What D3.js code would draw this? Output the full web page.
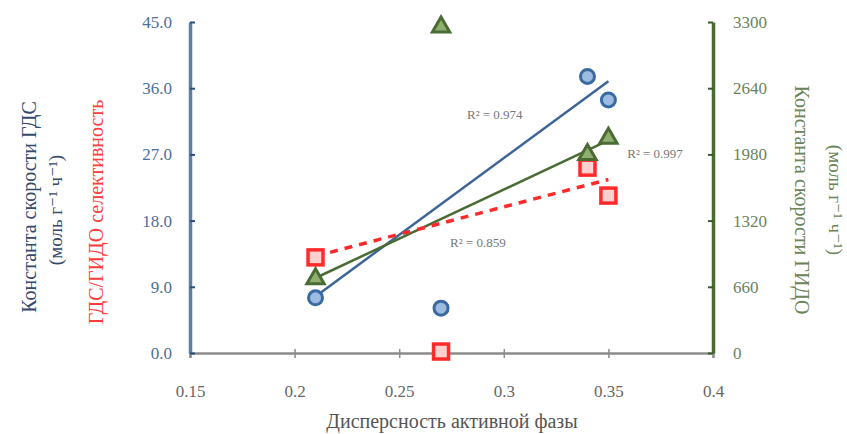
<!DOCTYPE html>
<html><head><meta charset="utf-8">
<script src="https://cdn.jsdelivr.net/npm/d3@7"></script>
<style>body{margin:0;background:#fff}svg{display:block}svg text{font-family:"Liberation Serif","DejaVu Serif","Times New Roman",serif !important}</style>
</head><body>
<script>
const dispersion = [0.21, 0.27, 0.34, 0.35];
const kHDS = [7.5, 6.1, 37.6, 34.4];
const selectivity = [13.0, 0.2, 25.2, 21.4];
const kHYD = [750, 3260, 1990, 2150];
const fitIdx = [0, 2, 3];
const xTicks = [0.15, 0.2, 0.25, 0.3, 0.35, 0.4];
const leftTicks = [0, 9, 18, 27, 36, 45];
const rightTicks = [0, 660, 1320, 1980, 2640, 3300];
const r2Labels = ["R² = 0.974", "R² = 0.997", "R² = 0.859"];

const W = 847, H = 434;
const svg = d3.select("body").append("svg").attr("width", W).attr("height", H);
const x = d3.scaleLinear().domain([0.15, 0.4]).range([190, 713]);
const yL = d3.scaleLinear().domain([0, 45]).range([353, 22]);
const yR = d3.scaleLinear().domain([0, 3300]).range([353, 22]);
const blue = "#3d6496", red = "#ff2b2b", green = "#4b6b34";
const serif = "'Liberation Serif','DejaVu Serif',serif";

// axes
const gx = svg.append("g").attr("transform", "translate(0,353)")
  .call(d3.axisBottom(x).tickValues(xTicks).tickSize(5).tickFormat(d => String(d)));
gx.attr("font-family", serif);
gx.select(".domain").attr("stroke", "#8c8c8c").attr("stroke-width", 2.5);
gx.selectAll(".tick line").attr("stroke", "#8c8c8c").attr("stroke-width", 1.5).attr("y1", -4);
gx.selectAll("text").style("font-family", serif).attr("font-size", 17).attr("fill", "#666").attr("y", 32);

const gl = svg.append("g").attr("transform", "translate(190,0)")
  .call(d3.axisLeft(yL).tickValues(leftTicks).tickSize(-5).tickSizeOuter(0).tickFormat(d3.format(".1f")));
gl.attr("font-family", serif);
gl.select(".domain").attr("stroke", "#5b7fab").attr("stroke-width", 3.5);
gl.selectAll(".tick line").attr("stroke", "#2c4d78").attr("stroke-width", 2);
gl.selectAll("text").style("font-family", serif).attr("font-size", 17).attr("fill", "#4c6f9c").attr("x", -18);

const gr = svg.append("g").attr("transform", "translate(713,0)")
  .call(d3.axisRight(yR).tickValues(rightTicks).tickSize(-5).tickSizeOuter(0).tickFormat(d3.format("d")));
gr.attr("font-family", serif);
gr.select(".domain").attr("stroke", green).attr("stroke-width", 3.5);
gr.selectAll(".tick line").attr("stroke", "#3a5828").attr("stroke-width", 2);
gr.selectAll("text").style("font-family", serif).attr("font-size", 17).attr("fill", "#6b8458").attr("x", 20);

// linear fits computed from data
function fit(ys) {
  const xs = fitIdx.map(i => dispersion[i]), vs = fitIdx.map(i => ys[i]);
  const mx = d3.mean(xs), my = d3.mean(vs);
  const sxy = d3.sum(xs, (v, k) => (v - mx) * (vs[k] - my));
  const sxx = d3.sum(xs, v => (v - mx) ** 2);
  const b = sxy / sxx, a = my - b * mx;
  const x0 = d3.min(xs), x1 = d3.max(xs);
  return [[x0, a + b * x0], [x1, a + b * x1]];
}
function drawFit(ys, sc, color, dash, w) {
  svg.append("path").datum(fit(ys))
    .attr("d", d3.line().x(d => x(d[0])).y(d => sc(d[1])))
    .attr("stroke", color).attr("stroke-width", w).attr("fill", "none")
    .attr("stroke-dasharray", dash);
}
drawFit(kHDS, yL, blue, null, 2.5);
drawFit(kHYD, yR, green, null, 2.5);
drawFit(selectivity, yL, red, "8,7", 3.5);

// markers
const pts = dispersion.map((d, i) => ({d, i}));
svg.selectAll(".c").data(pts).enter().append("circle")
  .attr("cx", p => x(p.d)).attr("cy", p => yL(kHDS[p.i])).attr("r", 7)
  .attr("fill", "#9dbbe0").attr("stroke", "#3b6aa3").attr("stroke-width", 3);
svg.selectAll(".s").data(pts).enter().append("rect")
  .attr("x", p => x(p.d) - 7.5).attr("y", p => yL(selectivity[p.i]) - 7.5).attr("width", 15).attr("height", 15)
  .attr("fill", "#ffd0d0").attr("stroke", red).attr("stroke-width", 3.5);
const tri = d3.symbol().type(d3.symbolTriangle).size(130);
svg.selectAll(".t").data(pts).enter().append("path")
  .attr("d", tri).attr("transform", p => `translate(${x(p.d)},${yR(kHYD[p.i]) + 1})`)
  .attr("fill", "#8fae6f").attr("stroke", green).attr("stroke-width", 3);

// R² labels
const labPos = [[0.2824, 31.8], [0.359, 26.5], [0.2743, 14.4]];
svg.selectAll(".r2").data(r2Labels).enter().append("text")
  .attr("x", (d, i) => x(labPos[i][0])).attr("y", (d, i) => yL(labPos[i][1]))
  .attr("font-size", 13).attr("fill", "#777").text(d => d);

// axis titles
function vtext(tx, ty, txt, color, size, rot) {
  svg.append("text").attr("transform", `translate(${tx},${ty}) rotate(${rot})`)
    .attr("text-anchor", "middle").attr("font-size", size)
    .attr("fill", color).text(txt);
}
vtext(36, 207, "Константа скорости ГДС", "#35496b", 20, -90);
vtext(62, 210, "(моль г⁻¹ ч⁻¹)", "#35496b", 19, -90);
vtext(103, 212, "ГДС/ГИДО селективность", "#ff3b3b", 20, -90);
vtext(795, 200, "Константа скорости ГИДО", "#6b8458", 20, 90);
vtext(829, 200, "(моль г⁻¹ ч⁻¹)", "#6b8458", 19, 90);
svg.append("text").attr("x", 452).attr("y", 428).attr("text-anchor", "middle")
  .attr("font-size", 20).attr("fill", "#555")
  .text("Дисперсность активной фазы");
</script>
</body></html>
